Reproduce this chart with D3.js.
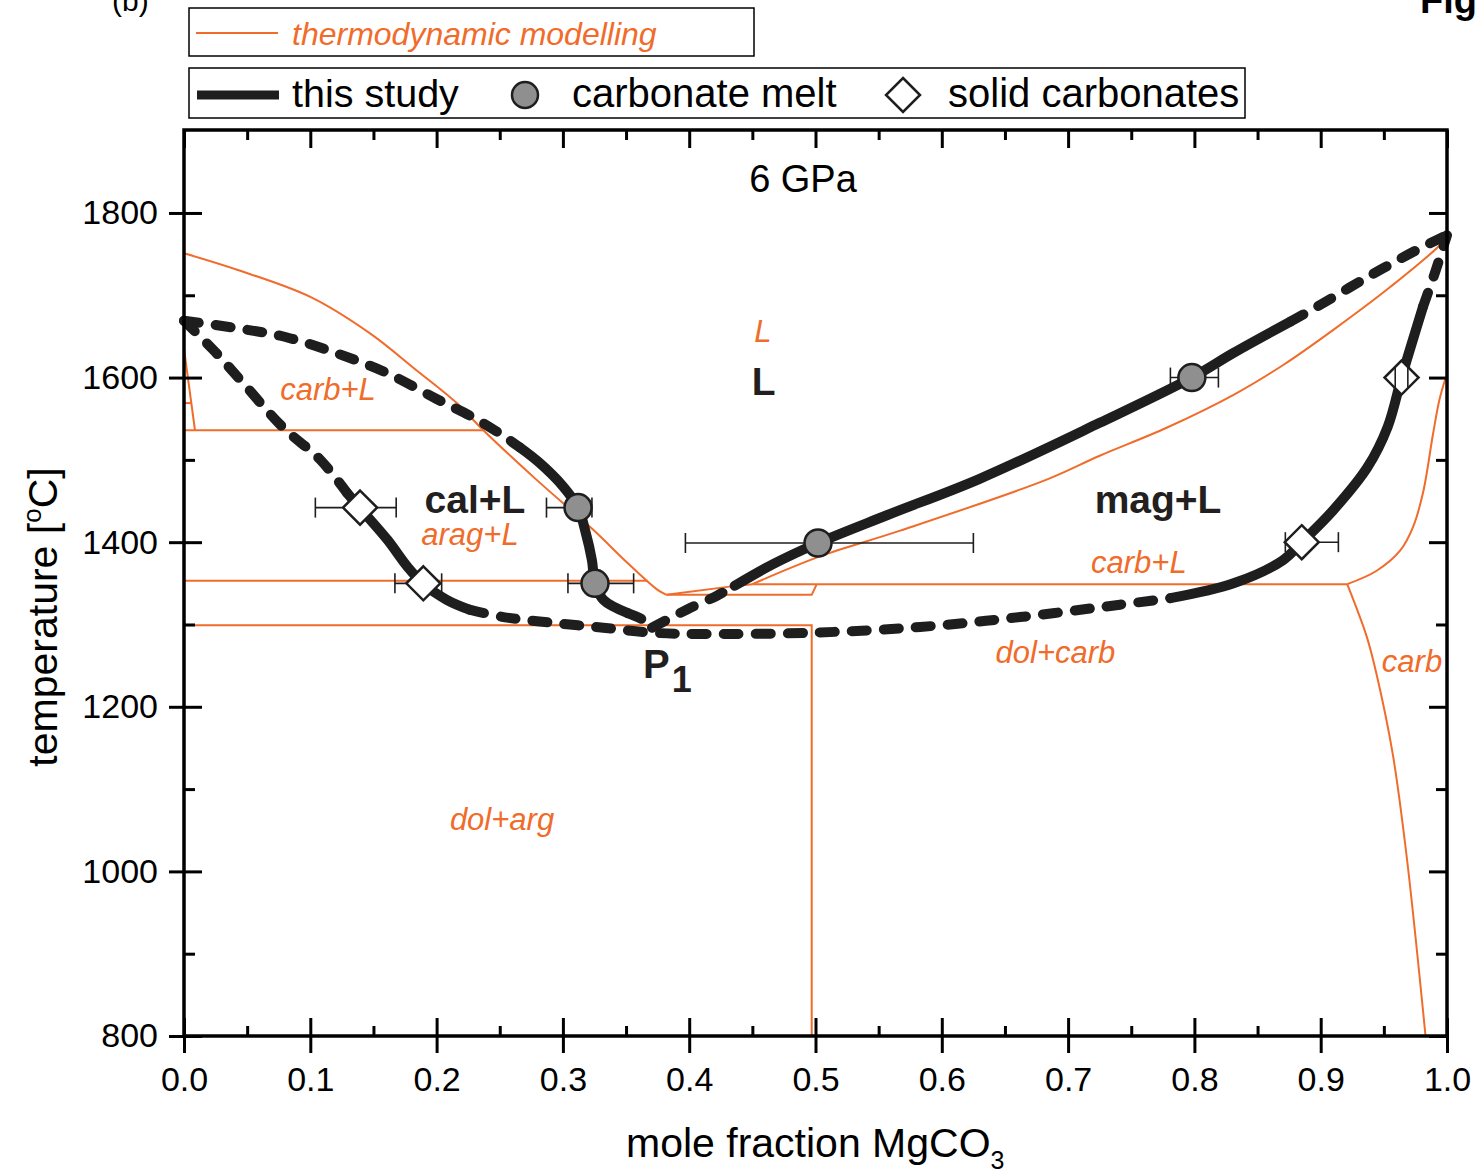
<!DOCTYPE html>
<html>
<head>
<meta charset="utf-8">
<script src="https://cdn.jsdelivr.net/npm/d3@7"></script>
<style>
  body { margin: 0; background: #fff; }
  svg { display: block; font-family: 'Liberation Sans', Arial, sans-serif; }
</style>
</head>
<body>
<svg id="chart" width="1478" height="1174"></svg>
<script>
// axis ticks
const xTicks = [0, 0.1, 0.2, 0.3, 0.4, 0.5, 0.6, 0.7, 0.8, 0.9, 1.0]
const xMinorTicks = [0.05, 0.15, 0.25, 0.35, 0.45, 0.55, 0.65, 0.75, 0.85, 0.95]
const yTicks = [800, 1000, 1200, 1400, 1600, 1800]
const yMinorTicks = [900, 1100, 1300, 1500, 1700]

// thermodynamic modelling (orange), [x MgCO3, T degC]
const modelLiquidusCal = [[0, 1751], [0.042, 1731], [0.1, 1698], [0.147, 1654], [0.184, 1609], [0.216, 1569], [0.237, 1536], [0.279, 1476], [0.324, 1415], [0.351, 1375], [0.375, 1342], [0.382, 1336]]
const modelLiquidusMag = [[0.45, 1349], [0.504, 1383], [0.567, 1414], [0.683, 1476], [0.725, 1505], [0.778, 1539], [0.831, 1579], [0.87, 1615], [0.91, 1658], [0.955, 1710], [0.995, 1762], [1, 1773]]
const modelSolvusUpper = [[0.921, 1349], [0.944, 1365], [0.963, 1390], [0.973, 1418], [0.981, 1460], [0.989, 1532], [0.994, 1573], [0.999, 1600]]
const modelSolvusLower = [[0.921, 1349], [0.9365, 1285], [0.944, 1241], [0.957, 1143], [0.968, 1019], [0.983, 800]]
const modelLink = [[0.382, 1336], [0.432, 1346], [0.45, 1349]]
const modelWedge = [[0, 1635], [0.0087, 1536]]
const modelWedgeTie = [[0, 1569], [0.006, 1569]]
const modelIso1536 = [[0, 1536], [0.237, 1536]]
const modelIso1353 = [[0, 1353], [0.367, 1353]]
const modelIso1299 = [[0, 1299], [0.497, 1299], [0.497, 800]]
const modelPocket = [[0.382, 1336], [0.497, 1336], [0.501, 1349]]
const modelIso1349 = [[0.45, 1349], [0.921, 1349]]

// this study (black), pieces are solid or dashed
const calLiqDash1 = [[0, 1669], [0.042, 1660], [0.081, 1649], [0.12, 1630], [0.16, 1606], [0.2, 1574], [0.232, 1549], [0.253, 1529], [0.266, 1515]]
const calLiqSolid = [[0.266, 1515], [0.281, 1497], [0.3, 1468], [0.312, 1442], [0.3175, 1415], [0.323, 1378], [0.3254, 1350], [0.332, 1330], [0.351, 1314]]
const calLiqDash2 = [[0.351, 1314], [0.363, 1306], [0.3705, 1296]]

const solidusDash1 = [[0, 1669], [0.023, 1634], [0.047, 1593], [0.078, 1540], [0.108, 1500], [0.129, 1460]]
const solidusSolid1 = [[0.129, 1460], [0.139, 1442], [0.161, 1403], [0.177, 1370], [0.189, 1350], [0.208, 1330], [0.226, 1318]]
const solidusDash2 = [[0.226, 1318], [0.253, 1309], [0.292, 1302], [0.332, 1296], [0.371, 1290], [0.409, 1288.5], [0.497, 1290], [0.583, 1297], [0.662, 1309], [0.741, 1324], [0.781, 1332]]
const solidusSolid2 = [[0.781, 1332], [0.831, 1350], [0.87, 1378], [0.885, 1400], [0.91, 1439], [0.937, 1491], [0.953, 1540], [0.964, 1600], [0.973, 1646], [0.981, 1686]]
const solidusDash3 = [[0.981, 1686], [0.991, 1730], [1, 1773]]

const magLiqDash1 = [[0.3705, 1296], [0.398, 1318], [0.422, 1335], [0.436, 1347]]
const magLiqSolid = [[0.436, 1347], [0.466, 1373], [0.502, 1399], [0.557, 1433], [0.63, 1477], [0.725, 1545], [0.798, 1600], [0.831, 1630], [0.876, 1668]]
const magLiqDash2 = [[0.876, 1668], [0.897, 1686], [0.937, 1722], [0.976, 1755], [1, 1773]]

// experiments: composition, temperature, x error range
const meltPoints = [
  { x: 0.312, t: 1442, lo: 0.287, hi: 0.323 },
  { x: 0.3254, t: 1350, lo: 0.304, hi: 0.356 },
  { x: 0.502, t: 1399, lo: 0.397, hi: 0.625 },
  { x: 0.798, t: 1600, lo: 0.781, hi: 0.819 },
]
const solidPoints = [
  { x: 0.1394, t: 1442, lo: 0.104, hi: 0.168 },
  { x: 0.1895, t: 1350, lo: 0.167, hi: 0.204 },
  { x: 0.885, t: 1400, lo: 0.872, hi: 0.914 },
  { x: 0.964, t: 1600, lo: 0.959, hi: 0.969 },
]

// field names
const modelLabels = [
  { text: 'L', x: 0.4584, t: 1643 },
  { text: 'carb+L', x: 0.114, t: 1573 },
  { text: 'arag+L', x: 0.2264, t: 1396 },
  { text: 'carb+L', x: 0.756, t: 1363 },
  { text: 'dol+carb', x: 0.69, t: 1253 },
  { text: 'carb', x: 0.9723, t: 1242 },
  { text: 'dol+arg', x: 0.2518, t: 1050 },
]
const studyLabels = [
  { text: 'L', x: 0.459, t: 1579 },
  { text: 'cal+L', x: 0.2304, t: 1436 },
  { text: 'mag+L', x: 0.7712, t: 1436 },
]

const ORANGE = '#f06c2b'
const BLACK = '#1e1e1e'
const GREY = '#8f8f8f'

const svg = d3.select('#chart')
const x = d3.scaleLinear().domain([0, 1]).range([184, 1447])
const y = d3.scaleLinear().domain([800, 1900.8]).range([1036, 130])

const smooth = d3
  .line()
  .x(d => x(d[0]))
  .y(d => y(d[1]))
  .curve(d3.curveCatmullRom.alpha(0.5))
const straight = d3
  .line()
  .x(d => x(d[0]))
  .y(d => y(d[1]))

// orange model lines
const modelCurves = [modelLiquidusCal, modelLiquidusMag, modelSolvusUpper, modelSolvusLower]
const modelSegments = [modelLink, modelWedge, modelWedgeTie, modelIso1536, modelIso1353, modelIso1299, modelPocket, modelIso1349]

const model = svg.append('g').attr('fill', 'none').attr('stroke', ORANGE).attr('stroke-width', 2)
model.selectAll('path.c').data(modelCurves).enter().append('path').attr('class', 'c').attr('d', smooth)
model.selectAll('path.s').data(modelSegments).enter().append('path').attr('class', 's').attr('d', straight)

// black study curves
const studyPieces = [
  { pts: calLiqDash1, dashed: true },
  { pts: calLiqSolid, dashed: false },
  { pts: calLiqDash2, dashed: true },
  { pts: solidusDash1, dashed: true },
  { pts: solidusSolid1, dashed: false },
  { pts: solidusDash2, dashed: true },
  { pts: solidusSolid2, dashed: false },
  { pts: solidusDash3, dashed: true },
  { pts: magLiqDash1, dashed: true },
  { pts: magLiqSolid, dashed: false },
  { pts: magLiqDash2, dashed: true },
]
svg
  .append('g')
  .selectAll('path')
  .data(studyPieces)
  .enter()
  .append('path')
  .attr('d', d => smooth(d.pts))
  .attr('fill', 'none')
  .attr('stroke', BLACK)
  .attr('stroke-width', 10)
  .attr('stroke-linecap', 'round')
  .attr('stroke-dasharray', d => (d.dashed ? '15 17' : null))

// error bars
const drawBars = (g, p, caps) => {
  const cy = y(p.t)
  if (!caps) g.append('line').attr('x1', x(p.lo)).attr('x2', x(p.hi)).attr('y1', cy).attr('y2', cy)
  g.append('line').attr('x1', x(p.lo)).attr('x2', x(p.lo)).attr('y1', cy - 10).attr('y2', cy + 10)
  g.append('line').attr('x1', x(p.hi)).attr('x2', x(p.hi)).attr('y1', cy - 10).attr('y2', cy + 10)
}
const errs = svg.append('g').attr('stroke', BLACK).attr('stroke-width', 1.6)
meltPoints.concat(solidPoints).forEach(p => drawBars(errs, p, false))

const diamond = (cx, cy, r) => `M${cx},${cy - r}L${cx + r},${cy}L${cx},${cy + r}L${cx - r},${cy}Z`

svg
  .append('g')
  .selectAll('path')
  .data(solidPoints)
  .enter()
  .append('path')
  .attr('d', d => diamond(x(d.x), y(d.t), 17))
  .attr('fill', '#fff')
  .attr('stroke', BLACK)
  .attr('stroke-width', 2.5)

svg
  .append('g')
  .selectAll('circle')
  .data(meltPoints)
  .enter()
  .append('circle')
  .attr('cx', d => x(d.x))
  .attr('cy', d => y(d.t))
  .attr('r', 13.5)
  .attr('fill', GREY)
  .attr('stroke', BLACK)
  .attr('stroke-width', 2.5)

// the narrow bar at the right 1600 point shows through its diamond
const inner = svg.append('g').attr('stroke', BLACK).attr('stroke-width', 1.6)
solidPoints.filter(d => x(d.hi) - x(d.lo) < 30).forEach(p => drawBars(inner, p, true))

// field labels
svg
  .append('g')
  .selectAll('text')
  .data(modelLabels)
  .enter()
  .append('text')
  .attr('x', d => x(d.x))
  .attr('y', d => y(d.t))
  .attr('text-anchor', 'middle')
  .attr('font-size', 31)
  .attr('font-style', 'italic')
  .attr('fill', ORANGE)
  .text(d => d.text)

svg
  .append('g')
  .selectAll('text')
  .data(studyLabels)
  .enter()
  .append('text')
  .attr('x', d => x(d.x))
  .attr('y', d => y(d.t))
  .attr('text-anchor', 'middle')
  .attr('font-size', 39)
  .attr('font-weight', 'bold')
  .attr('fill', '#231f20')
  .text(d => d.text)

const p1 = svg.append('text').attr('x', 643).attr('y', 678).attr('font-size', 40).attr('font-weight', 'bold').attr('fill', '#231f20')
p1.append('tspan').text('P')
p1.append('tspan').attr('dx', 2).attr('dy', 14).attr('font-size', 36).text('1')

svg.append('text').attr('x', 803).attr('y', 192).attr('text-anchor', 'middle').attr('font-size', 38).text('6 GPa')

// axes
const styleAxis = (g, size) => {
  g.select('.domain').remove()
  g.selectAll('line').attr('stroke', '#000').attr('stroke-width', 3)
  g.attr('font-family', null).attr('font-size', size)
  g.selectAll('text').attr('fill', '#000')
}

svg
  .append('g')
  .attr('transform', 'translate(0,1036)')
  .call(d3.axisBottom(x).tickValues(xTicks).tickSize(17).tickPadding(14).tickFormat(d3.format('.1f')))
  .call(g => styleAxis(g, 34))
svg.append('g').attr('transform', 'translate(0,1036)').call(d3.axisBottom(x).tickValues(xTicks).tickSize(-18).tickFormat('')).call(g => styleAxis(g))
svg.append('g').attr('transform', 'translate(0,1036)').call(d3.axisBottom(x).tickValues(xMinorTicks).tickSize(-10).tickFormat('')).call(g => styleAxis(g))
svg.append('g').attr('transform', 'translate(0,130)').call(d3.axisTop(x).tickValues(xTicks).tickSize(-18).tickFormat('')).call(g => styleAxis(g))
svg.append('g').attr('transform', 'translate(0,130)').call(d3.axisTop(x).tickValues(xMinorTicks).tickSize(-10).tickFormat('')).call(g => styleAxis(g))

svg
  .append('g')
  .attr('transform', 'translate(184,0)')
  .call(d3.axisLeft(y).tickValues(yTicks).tickSize(15).tickPadding(11).tickFormat(d3.format('d')))
  .call(g => styleAxis(g, 34))
svg.append('g').attr('transform', 'translate(184,0)').call(d3.axisLeft(y).tickValues(yTicks).tickSize(-18).tickFormat('')).call(g => styleAxis(g))
svg.append('g').attr('transform', 'translate(184,0)').call(d3.axisLeft(y).tickValues(yMinorTicks).tickSize(-11).tickFormat('')).call(g => styleAxis(g))
svg.append('g').attr('transform', 'translate(1447,0)').call(d3.axisRight(y).tickValues(yTicks).tickSize(-18).tickFormat('')).call(g => styleAxis(g))
svg.append('g').attr('transform', 'translate(1447,0)').call(d3.axisRight(y).tickValues(yMinorTicks).tickSize(-11).tickFormat('')).call(g => styleAxis(g))

svg
  .append('rect')
  .attr('x', x(0))
  .attr('y', y(1900.8))
  .attr('width', x(1) - x(0))
  .attr('height', y(800) - y(1900.8))
  .attr('fill', 'none')
  .attr('stroke', '#000')
  .attr('stroke-width', 3.5)

// axis titles
const xt = svg.append('text').attr('x', 626).attr('y', 1157).attr('font-size', 41)
xt.append('tspan').text('mole fraction MgCO')
xt.append('tspan').attr('dy', 12).attr('font-size', 25).text('3')

const yt = svg
  .append('text')
  .attr('transform', 'translate(57,617) rotate(-90)')
  .attr('text-anchor', 'middle')
  .attr('font-size', 41)
yt.append('tspan').text('temperature [')
yt.append('tspan').attr('dy', -16).attr('font-size', 26).text('o')
yt.append('tspan').attr('dy', 16).text('C]')

// legends
const leg = svg.append('g')
leg.append('rect').attr('x', 189).attr('y', 8).attr('width', 565).attr('height', 48).attr('fill', 'none').attr('stroke', '#000').attr('stroke-width', 1.5)
leg.append('line').attr('x1', 196).attr('x2', 278).attr('y1', 33).attr('y2', 33).attr('stroke', ORANGE).attr('stroke-width', 2)
leg.append('text').attr('x', 292).attr('y', 45).attr('font-size', 32).attr('font-style', 'italic').attr('fill', ORANGE).text('thermodynamic modelling')

leg.append('rect').attr('x', 189).attr('y', 68).attr('width', 1056).attr('height', 50).attr('fill', 'none').attr('stroke', '#000').attr('stroke-width', 1.5)
leg.append('line').attr('x1', 197).attr('x2', 279).attr('y1', 95).attr('y2', 95).attr('stroke', BLACK).attr('stroke-width', 9)
leg.append('text').attr('x', 292).attr('y', 107).attr('font-size', 39.5).text('this study')
leg.append('circle').attr('cx', 525).attr('cy', 95).attr('r', 13).attr('fill', GREY).attr('stroke', BLACK).attr('stroke-width', 2.5)
leg.append('text').attr('x', 572).attr('y', 107).attr('font-size', 40).text('carbonate melt')
leg.append('path').attr('d', diamond(903, 95, 17)).attr('fill', '#fff').attr('stroke', BLACK).attr('stroke-width', 2.5)
leg.append('text').attr('x', 948).attr('y', 107).attr('font-size', 40).text('solid carbonates')

// clipped panel marks from the page
svg.append('text').attr('x', 112).attr('y', 11).attr('font-size', 30).text('(b)')
svg.append('text').attr('x', 1420).attr('y', 13).attr('font-size', 38).attr('font-weight', 'bold').text('Fig')
</script>
</body>
</html>
